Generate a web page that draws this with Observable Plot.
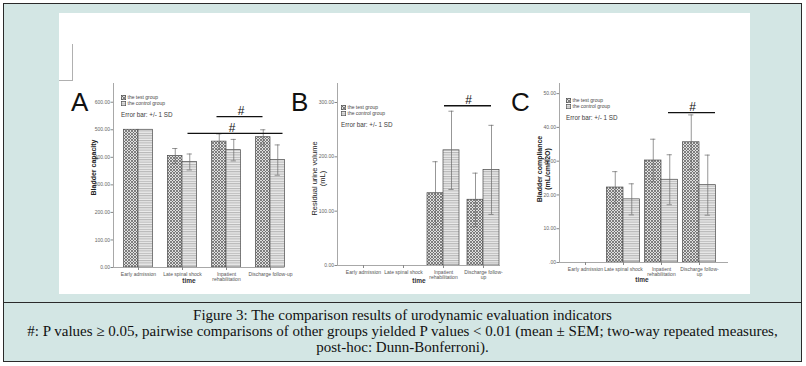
<!DOCTYPE html>
<html>
<head>
<meta charset="utf-8">
<script src="https://cdn.jsdelivr.net/npm/d3@7"></script>
<script src="https://cdn.jsdelivr.net/npm/@observablehq/plot@0.6"></script>
<style>
  html, body { margin: 0; padding: 0; background: #ffffff; }
  #page { position: relative; width: 806px; height: 366px; overflow: hidden; }
  #frame { position: absolute; left: 3px; top: 3px; width: 797px; height: 357px; background: #d3e6e4; border: 1.5px solid #2a2a2a; }
  #sep { position: absolute; left: 3px; top: 302px; width: 799px; height: 0; border-top: 1.5px solid #2a2a2a; }
  #white { position: absolute; left: 59px; top: 13px; width: 691px; height: 281px; background: #ffffff; }
  .deco { position: absolute; background: #b0b0b0; }
  .panel { position: absolute; }
  .letter { position: absolute; font-family: "Liberation Sans", Arial, sans-serif; font-size: 26px; color: #111111; line-height: 1; }
  .legend { position: absolute; font-family: "Liberation Sans", Arial, sans-serif; color: #474747; }
  .legend .row { display: flex; align-items: center; font-size: 5px; line-height: 5.5px; height: 5.5px; white-space: nowrap; }
  .legend .row svg { margin-right: 1.5px; }
  .legend .err { font-size: 6.3px; margin-top: 5px; white-space: nowrap; color: #3c3c3c; }
  #caption { position: absolute; left: 3px; top: 308px; width: 799px; text-align: center; font-family: "Liberation Serif", "DejaVu Serif", serif; font-size: 15px; line-height: 15.8px; color: #111111; white-space: nowrap; }
</style>
</head>
<body>
<div id="page">
  <div id="frame"></div>
  <div id="sep"></div>
  <div id="white"></div>
  <div class="deco" style="left:72px;top:44px;width:1px;height:37px;"></div>
  <div class="deco" style="left:59px;top:80px;width:14px;height:1px;"></div>
  <svg width="0" height="0" style="position:absolute">
    <defs>
      <pattern id="pTest" patternUnits="userSpaceOnUse" width="3" height="3">
        <rect width="3" height="3" fill="#e0e0e0"></rect>
        <path d="M0,0 L3,3 M3,0 L0,3" stroke="#666666" stroke-width="0.8"></path>
      </pattern>
      <pattern id="pCtrl" patternUnits="userSpaceOnUse" width="4" height="2.4">
        <rect width="4" height="2.4" fill="#ececec"></rect>
        <line x1="0" y1="0.6" x2="4" y2="0.6" stroke="#999999" stroke-width="0.8"></line>
      </pattern>
    </defs>
  </svg>
  <div id="caption">Figure 3: The comparison results of urodynamic evaluation indicators<br>#: P values ≥ 0.05, pairwise comparisons of other groups yielded P values &lt; 0.01 (mean ± SEM; two-way repeated measures,<br>post-hoc: Dunn-Bonferroni).</div>
</div>
<script>
// ---------------- data ----------------
const categories = ["Early admission", "Late spinal shock", "Inpatient rehabilitation", "Discharge follow-up"];
const groupNames = ["the test group", "the control group"];
const errorNote = "Error bar: +/- 1 SD";
const xTitle = "time";

// Panel A: bladder capacity
const capacityTestMean = [500, 405, 457, 473];
const capacityTestSD = [0, 27, 28, 27];
const capacityControlMean = [500, 383, 426, 390];
const capacityControlSD = [0, 29, 39, 55];
const capacityTicks = [0, 100, 200, 300, 400, 500, 600];
const capacityTickLabels = ["0.00", "100.00", "200.00", "300.00", "400.00", "500.00", "600.00"];
const capacityCatLabels = ["Early admission", "Late spinal shock", "Inpatient\nrehabilitation", "Discharge follow-up"];
const capacitySig = [
  {from: "Inpatient rehabilitation", to: "Discharge follow-up", y: 548},
  {from: "Late spinal shock", to: "Discharge follow-up", y: 487}
];

// Panel B: residual urine volume
const residualTestMean = [0, 0, 133, 121];
const residualTestSD = [0, 0, 58, 49];
const residualControlMean = [0, 0, 212, 176];
const residualControlSD = [0, 0, 72, 82];
const residualTicks = [0, 100, 200, 300];
const residualTickLabels = ["0.00", "100.00", "200.00", "300.00"];
const residualCatLabels = ["Early admission", "Late spinal shock", "Inpatient\nrehabilitation", "Discharge follow-\nup"];
const residualSig = [
  {from: "Inpatient rehabilitation", to: "Discharge follow-up", y: 294}
];

// Panel C: bladder compliance
const complianceTestMean = [0, 22.2, 30.2, 35.6];
const complianceTestSD = [0, 4.7, 6.3, 8.1];
const complianceControlMean = [0, 18.7, 24.5, 22.9];
const complianceControlSD = [0, 4.6, 7.4, 8.9];
const complianceTicks = [0, 10, 20, 30, 40, 50];
const complianceTickLabels = [".00", "10.00", "20.00", "30.00", "40.00", "50.00"];
const complianceCatLabels = ["Early admission", "Late spinal shock", "Inpatient\nrehabilitation", "Discharge follow-\nup"];
const complianceSig = [
  {from: "Inpatient rehabilitation", to: "Discharge follow-up", y: 44.4}
];

// ---------------- drawing ----------------
const FONT = "'Liberation Sans', Arial, sans-serif";

function panel(cfg) {
  const rows = categories.map((c, i) => ({
    c, tm: cfg.testMean[i], ts: cfg.testSD[i], cm: cfg.controlMean[i], cs: cfg.controlSD[i]
  }));
  const band = (cfg.xRange[1] - cfg.xRange[0]) / categories.length;
  const bw = cfg.barW;
  const pad = (band - 2 * bw) / 2;
  const cap = 2.6;
  const errT = rows.filter(d => d.ts > 0);
  const errC = rows.filter(d => d.cs > 0);
  const errStyle = {stroke: "#6a6a6a", strokeWidth: 0.7};
  const plot = Plot.plot({
    width: cfg.width, height: cfg.height,
    marginLeft: cfg.ml, marginRight: cfg.mr, marginTop: cfg.mt, marginBottom: cfg.mb,
    x: {type: "band", domain: categories, range: cfg.xRange, padding: 0, axis: null},
    y: {domain: [0, cfg.yMax], axis: null},
    style: {fontFamily: FONT, fontSize: "5px", color: "#555555", background: "transparent", overflow: "visible"},
    marks: [
      Plot.barY(rows, {x: "c", y: "tm", fill: "url(#pTest)", stroke: "#4a4a4a", strokeWidth: 0.7, insetLeft: pad, insetRight: pad + bw}),
      Plot.barY(rows, {x: "c", y: "cm", fill: "url(#pCtrl)", stroke: "#4a4a4a", strokeWidth: 0.7, insetLeft: pad + bw, insetRight: pad}),
      Plot.ruleX(errT, {x: "c", y1: d => d.tm - d.ts, y2: d => d.tm + d.ts, dx: -bw / 2, ...errStyle}),
      Plot.tickY(errT, {x: "c", y: d => d.tm + d.ts, insetLeft: pad + bw / 2 - cap, insetRight: pad + 1.5 * bw - cap, ...errStyle}),
      Plot.tickY(errT, {x: "c", y: d => d.tm - d.ts, insetLeft: pad + bw / 2 - cap, insetRight: pad + 1.5 * bw - cap, ...errStyle}),
      Plot.ruleX(errC, {x: "c", y1: d => d.cm - d.cs, y2: d => d.cm + d.cs, dx: bw / 2, ...errStyle}),
      Plot.tickY(errC, {x: "c", y: d => d.cm + d.cs, insetLeft: pad + 1.5 * bw - cap, insetRight: pad + bw / 2 - cap, ...errStyle}),
      Plot.tickY(errC, {x: "c", y: d => d.cm - d.cs, insetLeft: pad + 1.5 * bw - cap, insetRight: pad + bw / 2 - cap, ...errStyle}),
      Plot.ruleY([0], {stroke: "#a8a8a8", strokeWidth: 1}),
      Plot.frame({anchor: "left", stroke: "#a8a8a8", strokeWidth: 1}),
      Plot.axisY({ticks: cfg.ticks, tickFormat: d => cfg.tickLabels[cfg.ticks.indexOf(d)], tickSize: 2.5, tickPadding: 1, fontSize: 5, stroke: "#888888", fill: "#666666"}),
      Plot.axisX({tickSize: 3, tickPadding: 2, tickFormat: d => cfg.catLabels[categories.indexOf(d)], fontSize: 5, lineHeight: 1, stroke: "#888888", fill: "#555555"}),
      ...cfg.sig.map((s, k) => Plot.ruleY([s], {y: "y", x1: "from", x2: "to", insetLeft: cfg.sigInset[k][0], insetRight: cfg.sigInset[k][1], stroke: "#111111", strokeWidth: 1.3})),
      ...cfg.sig.map((s, k) => Plot.text([s], {x: "from", y: "y", text: () => "#", dx: cfg.sigHashDx[k], dy: -1.5, lineAnchor: "bottom", fontSize: 12, fill: "#111111", fontFamily: FONT})),
      Plot.text([cfg.yTitle], {frameAnchor: "left", textAnchor: "middle", rotate: -90, dx: -cfg.yTitleOffset, dy: cfg.yTitleDy, lineAnchor: "middle", fontSize: cfg.yTitleSize, fontWeight: cfg.yTitleWeight, fill: "#222222", lineHeight: 1.1}),
      Plot.text([xTitle], {frameAnchor: "bottom", dx: cfg.timeDx, dy: cfg.timeDy, lineAnchor: "top", fontSize: 6.5, fontWeight: "bold", fill: "#333333"})
    ]
  });
  plot.classList.add("panel");
  plot.style.left = cfg.left + "px";
  plot.style.top = cfg.top + "px";
  plot.style.position = "absolute";
  return plot;
}

const page = document.getElementById("page");

page.appendChild(panel({
  left: 60, top: 80, width: 226, height: 215, ml: 53, mr: 2, mt: 3, mb: 28,
  xRange: [55.5, 231.5], barW: 14.5, yMax: 668,
  testMean: capacityTestMean, testSD: capacityTestSD, controlMean: capacityControlMean, controlSD: capacityControlSD,
  ticks: capacityTicks, tickLabels: capacityTickLabels, catLabels: capacityCatLabels,
  sig: capacitySig, sigInset: [[12.5, 29.5], [27.5, 9.5]], sigHashDx: [14.5, 49.5],
  yTitle: "Bladder capacity", yTitleOffset: 20, yTitleDy: -8, yTitleSize: 7, yTitleWeight: "bold",
  timeDx: -10, timeDy: 11
}));

page.appendChild(panel({
  left: 285, top: 80, width: 220, height: 215, ml: 52, mr: 5, mt: 3, mb: 30,
  xRange: [58, 218], barW: 16, yMax: 335,
  testMean: residualTestMean, testSD: residualTestSD, controlMean: residualControlMean, controlSD: residualControlSD,
  ticks: residualTicks, tickLabels: residualTickLabels, catLabels: residualCatLabels,
  sig: residualSig, sigInset: [[21, 12]], sigHashDx: [25],
  yTitle: "Residual urine volume\n(mL)", yTitleOffset: 19, yTitleDy: 4, yTitleSize: 7.5, yTitleWeight: "normal",
  timeDx: 0, timeDy: 13
}));

page.appendChild(panel({
  left: 505, top: 80, width: 230, height: 215, ml: 54, mr: 7, mt: 3, mb: 33,
  xRange: [61, 213], barW: 16.5, yMax: 53,
  testMean: complianceTestMean, testSD: complianceTestSD, controlMean: complianceControlMean, controlSD: complianceControlSD,
  ticks: complianceTicks, tickLabels: complianceTickLabels, catLabels: complianceCatLabels,
  sig: complianceSig, sigInset: [[26, 3]], sigHashDx: [31],
  yTitle: "Bladder compliance\n(mL/cmH2O)", yTitleOffset: 16, yTitleDy: -4, yTitleSize: 7, yTitleWeight: "bold",
  timeDx: -2, timeDy: 15
}));

// panel letters and legends (inside the white figure area)
function letter(t, x, y) {
  const d = document.createElement("div");
  d.className = "letter"; d.textContent = t;
  d.style.left = x + "px"; d.style.top = y + "px";
  page.appendChild(d);
}
function legend(x, y) {
  const d = document.createElement("div");
  d.className = "legend"; d.style.left = x + "px"; d.style.top = y + "px";
  const fills = ["url(#pTest)", "url(#pCtrl)"];
  groupNames.forEach((g, i) => {
    const r = document.createElement("div"); r.className = "row";
    r.innerHTML = `<svg width="5" height="5"><rect x="0.3" y="0.3" width="4.4" height="4.4" fill="${fills[i]}" stroke="#444444" stroke-width="0.6"></rect></svg><span>${g}</span>`;
    d.appendChild(r);
  });
  const e = document.createElement("div"); e.className = "err"; e.textContent = errorNote;
  d.appendChild(e);
  page.appendChild(d);
}
letter("A", 71, 89);
letter("B", 291, 89);
letter("C", 511, 89);
legend(121, 95);
legend(341, 105);
legend(566, 98);
</script>
</body>
</html>
